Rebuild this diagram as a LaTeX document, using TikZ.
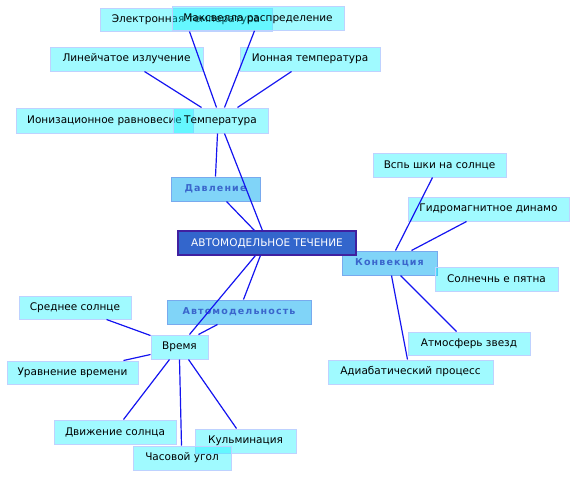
\documentclass[tikz,border=0pt]{standalone}
\usepackage{fontspec}
\setmainfont{DejaVu Sans}
\newfontfamily\spacedfont[LetterSpace=12]{DejaVu Sans}
\definecolor{linecol}{RGB}{20,20,240}
\definecolor{childfill}{RGB}{10,242,255}
\definecolor{childdraw}{RGB}{190,210,255}
\definecolor{midfill}{RGB}{128,212,248}
\definecolor{middraw}{RGB}{120,170,238}
\definecolor{midtext}{RGB}{58,102,204}
\definecolor{rootfill}{RGB}{51,102,204}
\definecolor{rootdraw}{RGB}{64,32,160}
\tikzset{
  child/.style={draw=childdraw, line width=1pt, fill=childfill, fill opacity=0.39, text opacity=1,
    inner sep=0pt, minimum height=24pt, font=\fontsize{10.5}{12}\selectfont, text=black},
  mid/.style={draw=middraw, line width=1pt, fill=midfill, inner sep=0pt, minimum height=24pt,
    font=\spacedfont\bfseries\fontsize{9.5}{12}\selectfont, text=midtext},
  root/.style={draw=rootdraw, line width=1.2pt, fill=rootfill, inner sep=0pt, minimum height=24pt,
    font=\fontsize{10.5}{12}\selectfont, text=white},
  conn/.style={draw=linecol, line width=1.2pt}
}
\begin{document}
\begin{tikzpicture}[x=1pt,y=-1pt]
\useasboundingbox (0,0) rectangle (576,477);
% top cluster
\node[child, minimum width=172pt, minimum height=23pt] (el) at (186,19.5) {Электронная температура};
\node[child, minimum width=172pt] (mx) at (258,18.3) {Максвелла распределение};
\node[child, minimum width=153pt] (lin) at (126.5,59) {Линейчатое излучение};
\node[child, minimum width=140pt] (ion) at (310,59) {Ионная температура};
\node[child, minimum width=177pt, minimum height=25pt] (iz) at (104.5,120.5) {Ионизационное равновесие};
\node[child, minimum width=95pt, minimum height=25pt] (temp) at (220.5,120.5) {Температура};
% middle level
\node[mid, minimum width=89pt] (dav) at (215.5,189) {Давление};
\node[mid, minimum width=95pt] (konv) at (389.5,263) {Конвекция};
\node[mid, minimum width=144pt] (avt) at (239,312) {Автомодельность};
\node[root, minimum width=178pt] (root) at (267,243) {АВТОМОДЕЛЬНОЕ ТЕЧЕНИЕ};
% time cluster
\node[child, minimum width=57pt] (vr) at (179.5,347) {Время};
\node[child, minimum width=112pt, minimum height=23pt] (sr) at (75,307.5) {Среднее солнце};
\node[child, minimum width=131pt, minimum height=23pt] (ur) at (72.5,372.5) {Уравнение времени};
\node[child, minimum width=122pt] (dv) at (115,432) {Движение солнца};
\node[child, minimum width=101pt] (ku) at (245.5,441) {Кульминация};
\node[child, minimum width=98pt] (ch) at (182,458) {Часовой угол};
% convection cluster
\node[child, minimum width=133pt] (vs) at (439.5,165) {Вспь шки на солнце};
\node[child, minimum width=161pt] (gd) at (488.5,209) {Гидромагнитное динамо};
\node[child, minimum width=123pt] (sp) at (496.5,279) {Солнечнь е пятна};
\node[child, minimum width=122pt, minimum height=23pt] (at) at (469,343.5) {Атмосферь звезд};
\node[child, minimum width=165pt] (ad) at (410.5,372) {Адиабатический процесс};
% connectors
\draw[conn] ([xshift=29pt]temp.north west) -- ([xshift=95pt]lin.south west);
\draw[conn] ([xshift=44pt]temp.north west) -- ([xshift=90pt]el.south west);
\draw[conn] ([xshift=52pt]temp.north west) -- ([xshift=83pt]mx.south west);
\draw[conn] ([xshift=65pt]temp.north west) -- ([xshift=52pt]ion.south west);
\draw[conn] ([xshift=45pt]temp.south west) -- ([xshift=45pt]dav.north west);
\draw[conn] ([xshift=52pt]temp.south west) -- ([xshift=85pt]root.north west);
\draw[conn] ([xshift=56pt]dav.south west) -- ([xshift=77pt]root.north west);
\draw[conn] ([xshift=83pt]root.south west) -- ([xshift=77pt]avt.north west);
\draw[conn] ([xshift=78pt]root.south west) -- ([xshift=39pt]vr.north west);
\draw[conn] ([xshift=51pt]avt.south west) -- ([xshift=48pt]vr.north west);
\draw[conn] ([xshift=88pt]sr.south west) -- ([yshift=-1pt]vr.north west);
\draw[conn] ([xshift=117pt]ur.north west) -- ([yshift=5pt]vr.south west);
\draw[conn] ([xshift=19pt]vr.south west) -- ([xshift=70pt]dv.north west);
\draw[conn] ([xshift=29pt]vr.south west) -- ([xshift=49pt]ch.north west);
\draw[conn] ([xshift=38pt]vr.south west) -- ([xshift=42pt]ku.north west);
\draw[conn] ([xshift=54pt]konv.north west) -- ([xshift=60pt]vs.south west);
\draw[conn] ([xshift=70pt]konv.north west) -- ([xshift=59pt]gd.south west);
\draw[conn] ([xshift=59pt]konv.south west) -- ([xshift=49pt]at.north west);
\draw[conn] ([xshift=50pt]konv.south west) -- ([xshift=80pt]ad.north west);
\end{tikzpicture}
\end{document}
